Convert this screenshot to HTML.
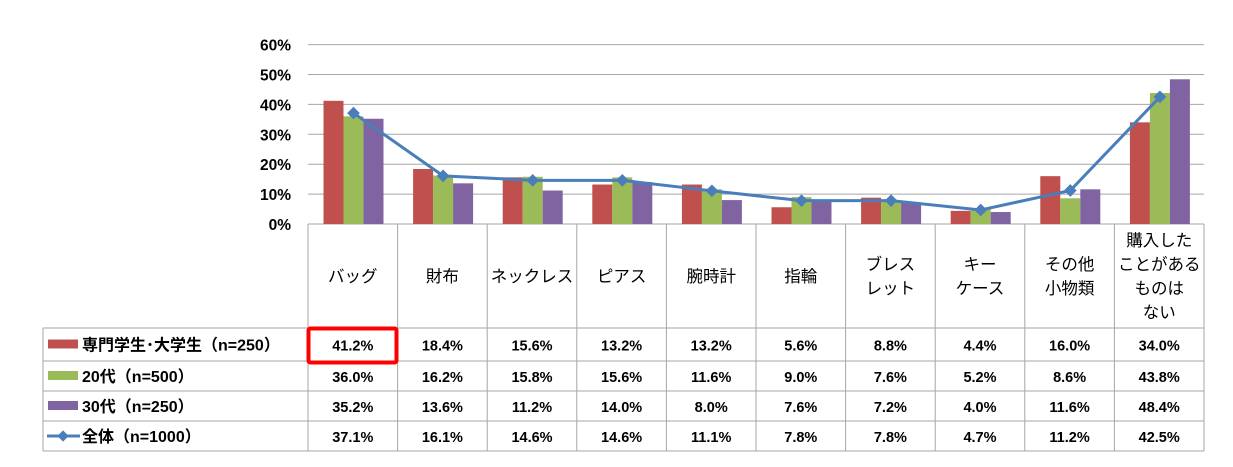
<!DOCTYPE html>
<html><head><meta charset="utf-8"><style>
body{margin:0;background:#fff}
svg text{font-family:"Liberation Sans","Noto Sans CJK JP",sans-serif}
</style></head><body>
<svg id="s" width="1233" height="462" xmlns="http://www.w3.org/2000/svg"></svg>
<script>
const s=document.getElementById('s');
const cats=[["バッグ"],["財布"],["ネックレス"],["ピアス"],["腕時計"],["指輪"],["ブレス","レット"],["キー","ケース"],["その他","小物類"],["購入した","ことがある","ものは","ない"]];
const d=[[41.2,18.4,15.6,13.2,13.2,5.6,8.8,4.4,16.0,34.0],[36.0,16.2,15.8,15.6,11.6,9.0,7.6,5.2,8.6,43.8],[35.2,13.6,11.2,14.0,8.0,7.6,7.2,4.0,11.6,48.4],[37.1,16.1,14.6,14.6,11.1,7.8,7.8,4.7,11.2,42.5]];
const cols=["#c0504d","#9bbb59","#8064a2"];
const names=["専門学生･大学生（n=250）","20代（n=500）","30代（n=250）","全体（n=1000）"];
const L=308,R=1204,W=89.6,Y0=224,K=2.99;
let h='';
for(let i=0;i<=6;i++){const y=Y0-i*10*K;h+=`<line x1="${L}" x2="${R}" y1="${y}" y2="${y}" stroke="#a6a6a6" stroke-width="1"/>`;
h+=`<text x="291" y="${y+6}" text-anchor="end" font-size="15.5" font-weight="bold">${i*10}%</text>`;}
for(let c=0;c<10;c++){const x0=L+W*c+15.5;for(let k=0;k<3;k++){const v=d[k][c]*K;h+=`<rect x="${x0+k*20}" y="${Y0-v}" width="20" height="${v}" fill="${cols[k]}"/>`;}}
let pts=[];for(let c=0;c<10;c++){pts.push([L+W*c+45.5,Y0-d[3][c]*K]);}
h+=`<polyline points="${pts.map(p=>p.join(',')).join(' ')}" fill="none" stroke="#4a7ebb" stroke-width="3"/>`;
pts.forEach(p=>h+=`<rect x="${p[0]-4.5}" y="${p[1]-4.5}" width="9" height="9" fill="#4a7ebb" transform="rotate(45 ${p[0]} ${p[1]})"/>`);
const rows=[328,361,391,421,451];
h+=`<g stroke="#a6a6a6" stroke-width="1" fill="none">`;
h+=`<line x1="${L}" y1="224" x2="${L}" y2="451"/>`;
for(let c=1;c<=10;c++)h+=`<line x1="${L+W*c}" y1="224" x2="${L+W*c}" y2="451"/>`;
rows.forEach(y=>h+=`<line x1="43" y1="${y}" x2="${R}" y2="${y}"/>`);
h+=`<line x1="43" y1="328" x2="43" y2="451"/></g>`;
for(let c=0;c<10;c++){const cx=L+W*c+W/2;const n=cats[c].length;const st=276-(n-1)*12+6;cats[c].forEach((t,i)=>h+=`<text x="${cx}" y="${st+i*24}" text-anchor="middle" font-size="16.5">${t}</text>`);}
for(let r=0;r<4;r++){const cy=(rows[r]+rows[r+1])/2+6;
 if(r<3)h+=`<rect x="48" y="${cy-11}" width="30" height="9" fill="${cols[r]}"/>`;
 else{h+=`<line x1="47" x2="80" y1="${cy-6}" y2="${cy-6}" stroke="#4a7ebb" stroke-width="3"/><rect x="59" y="${cy-10}" width="8" height="8" fill="#4a7ebb" transform="rotate(45 63 ${cy-6})"/>`;}
 h+=`<text x="82" y="${cy}" font-size="16" font-weight="bold">${names[r]}</text>`;
 for(let c=0;c<10;c++)h+=`<text x="${L+W*c+W/2}" y="${cy}" text-anchor="middle" font-size="14.5" font-weight="bold">${d[r][c].toFixed(1)}%</text>`;}
h+=`<rect x="308.5" y="328.5" width="88" height="34" rx="2" fill="none" stroke="#ff0000" stroke-width="4"/>`;
s.innerHTML=h;
</script>
</body></html>
